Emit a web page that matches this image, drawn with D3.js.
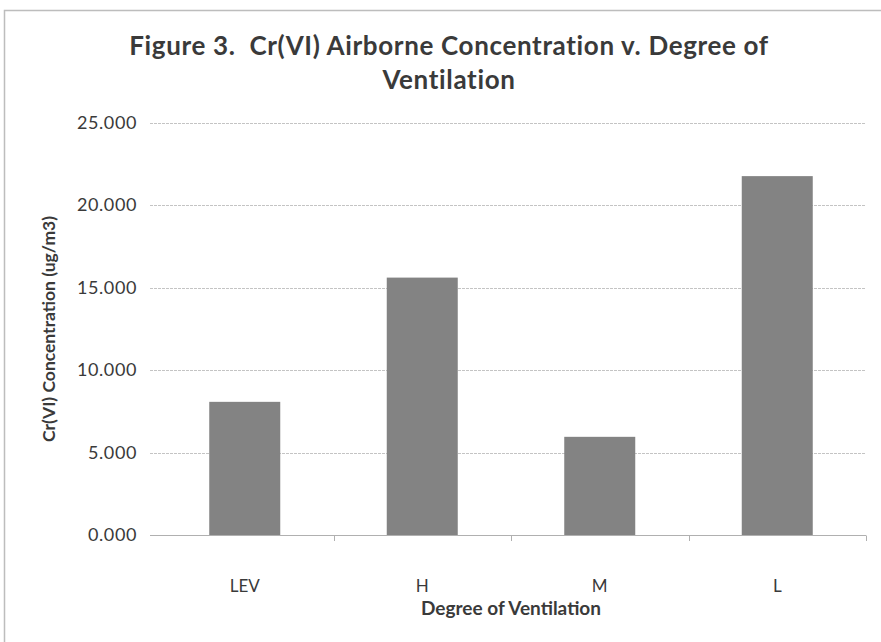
<!DOCTYPE html>
<html><head><meta charset="utf-8">
<script src="https://cdn.jsdelivr.net/npm/d3@7"></script>
<style>body{margin:0;background:#fff}svg{display:block}text{font-family:Lato,"Open Sans",sans-serif;fill:#3a3a3a;white-space:pre}</style>
</head><body><svg id="c" width="881" height="642"></svg>
<script>
const categories = ["LEV", "H", "M", "L"];
const values = [8.07, 15.6, 5.95, 21.75];
const yTicks = [0, 5, 10, 15, 20, 25];
const titleLines = ["Figure 3.  Cr(VI) Airborne Concentration v. Degree of", "Ventilation"];
const yTitle = "Cr(VI) Concentration (ug/m3)";
const xTitle = "Degree of Ventilation";

const svg = d3.select("#c");
svg.append("rect").attr("x",4.5).attr("y",10.5).attr("width",900).attr("height",700)
  .attr("fill","none").attr("stroke","#bdbdbd").attr("stroke-width",1.5);

const x = d3.scaleBand().domain(categories).range([156, 866]).paddingInner(0.6).paddingOuter(0.3);
const y = d3.scaleLinear().domain([0, 25]).range([535, 122.5]);

// gridlines
svg.append("g").selectAll("line").data(yTicks.filter(d=>d>0)).join("line")
  .attr("x1",150).attr("x2",866).attr("y1",d=>Math.round(y(d))+0.5).attr("y2",d=>Math.round(y(d))+0.5)
  .attr("stroke","#c4c4c4").attr("stroke-width",1).attr("stroke-dasharray","3,1");

// y axis labels
const ya = svg.append("g").attr("transform","translate(150,0)")
  .call(d3.axisLeft(y).tickValues(yTicks).tickFormat(d3.format(".3f")).tickSize(0).tickPadding(13));
ya.select(".domain").remove();
ya.selectAll("text").style("font-size","18px").style("letter-spacing","0.6px").style("font-family","Lato,sans-serif").attr("fill","#3a3a3a");

// bars
svg.append("g").selectAll("rect").data(categories).join("rect")
  .attr("x",d=>x(d)).attr("width",x.bandwidth())
  .attr("y",(d,i)=>y(values[i])).attr("height",(d,i)=>y(0)-y(values[i]))
  .attr("fill","#838383");

// x axis
const step = x.step();
const xa = svg.append("g").attr("transform",`translate(0,${Math.round(y(0))+0.5})`)
  .call(d3.axisBottom(x).tickSize(0).tickPadding(44));
xa.select(".domain").remove();
xa.selectAll("text").style("font-size","17px").style("font-family","Lato,sans-serif").attr("fill","#3a3a3a");
svg.append("line").attr("x1",150).attr("x2",866).attr("y1",Math.round(y(0))+0.5).attr("y2",Math.round(y(0))+0.5)
  .attr("stroke","#b0b0b0");
const bounds = categories.map(c=>x(c)+x.bandwidth()/2+step/2);
svg.append("g").selectAll("line").data(bounds).join("line")
  .attr("x1",d=>Math.round(d)+0.5).attr("x2",d=>Math.round(d)+0.5)
  .attr("y1",Math.round(y(0))+0.5).attr("y2",Math.round(y(0))+6)
  .attr("stroke","#b0b0b0");

// titles
svg.append("g").selectAll("text").data(titleLines).join("text")
  .attr("x",449).attr("y",(d,i)=>55+i*34).attr("text-anchor","middle")
  .style("font-size","26px").style("font-weight","bold").style("letter-spacing","0.65px").attr("fill","#222")
  .text(d=>d);
svg.append("text").attr("transform","translate(55,329) rotate(-90)").attr("text-anchor","middle")
  .style("font-size","17.5px").style("font-weight","bold").attr("fill","#2a2a2a").text(yTitle);
svg.append("text").attr("x",511).attr("y",615).attr("text-anchor","middle")
  .style("font-size","19px").style("font-weight","bold").attr("fill","#2a2a2a").text(xTitle);
</script></body></html>
